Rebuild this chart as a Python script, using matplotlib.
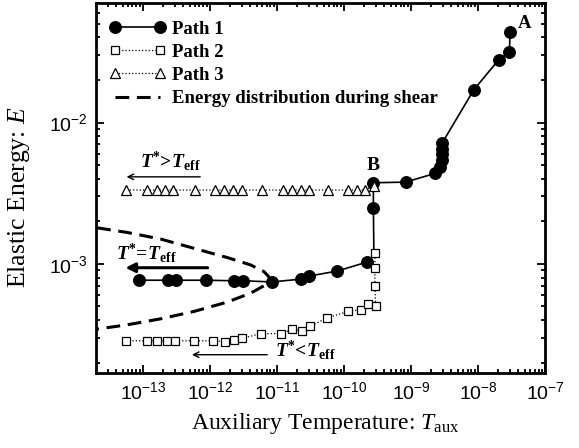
import matplotlib
matplotlib.use("Agg")
import matplotlib.pyplot as plt
from matplotlib.ticker import LogLocator, FixedLocator

plt.rcParams['mathtext.fontset'] = 'custom'
plt.rcParams['mathtext.rm'] = 'Liberation Serif'
plt.rcParams['mathtext.it'] = 'Liberation Serif:italic'
plt.rcParams['mathtext.bf'] = 'Liberation Serif:bold'
plt.rcParams['mathtext.bfit'] = 'Liberation Serif:italic:bold'
plt.rcParams['axes.unicode_minus'] = False
plt.rcParams['font.family'] = ['Liberation Sans', 'DejaVu Sans']

# ---------------- data ----------------
# Path 1 (filled circles), ordered from point A downwards
path1_x = [3.0e-8, 2.95e-8, 2.04e-8, 8.7e-9, 2.93e-9, 2.9e-9, 2.9e-9, 2.87e-9, 2.7e-9,
           2.3e-9, 8.3e-10, 2.75e-10, 2.75e-10, 2.8e-10, 2.2e-10, 7.9e-11, 3.0e-11,
           2.25e-11, 8.4e-12, 3.1e-12, 2.3e-12, 8.7e-13, 3.1e-13, 2.34e-13, 8.8e-14]
path1_y = [4.36e-2, 3.15e-2, 2.78e-2, 1.71e-2, 7.18e-3, 6.55e-3, 5.97e-3, 5.42e-3, 4.86e-3,
           4.37e-3, 3.79e-3, 3.75e-3, 2.5e-3, 1.16e-3, 1.03e-3, 8.9e-4, 8.2e-4,
           7.8e-4, 7.46e-4, 7.6e-4, 7.6e-4, 7.67e-4, 7.67e-4, 7.67e-4, 7.67e-4]
path1_hidden = [13]   # vertex of the line with no visible marker

# Path 2 (open squares)
path2_x = [5.57e-14, 1.14e-13, 1.63e-13, 2.31e-13, 3.0e-13, 5.83e-13, 1.12e-12, 1.66e-12,
           2.31e-12, 2.97e-12, 5.71e-12, 1.17e-11, 1.69e-11, 2.39e-11, 3.08e-11, 5.52e-11,
           1.14e-10, 1.77e-10, 2.31e-10, 2.97e-10, 2.9e-10, 2.9e-10, 2.9e-10]
path2_y = [2.86e-4, 2.86e-4, 2.86e-4, 2.86e-4, 2.86e-4, 2.86e-4, 2.86e-4, 2.82e-4,
           2.91e-4, 2.97e-4, 3.21e-4, 3.22e-4, 3.44e-4, 3.37e-4, 3.61e-4, 4.14e-4,
           4.61e-4, 4.75e-4, 5.24e-4, 5.08e-4, 7.0e-4, 9.42e-4, 1.2e-3]

# Path 3 (open triangles)
path3_x = [5.7e-14, 1.16e-13, 1.6e-13, 2.13e-13, 2.83e-13, 5.97e-13, 1.19e-12, 1.62e-12,
           2.18e-12, 2.97e-12, 5.9e-12, 1.22e-11, 1.66e-11, 2.26e-11, 3.03e-11, 5.7e-11,
           1.16e-10, 1.55e-10, 2.08e-10, 2.8e-10]
path3_y = [3.33e-3] * 19 + [3.55e-3]

# Energy distribution during shear (dashed curve)
dist_x = [2.08e-14, 5.83e-14, 1.84e-13, 5.77e-13, 1.81e-12, 4.05e-12, 6.4e-12, 7.6e-12,
          7.87e-12, 7.5e-12, 6.78e-12, 4.05e-12, 1.81e-12, 5.77e-13, 1.84e-13, 5.83e-14, 2.08e-14]
dist_y = [1.80e-3, 1.67e-3, 1.50e-3, 1.29e-3, 1.11e-3, 9.84e-4, 8.83e-4, 8.1e-4,
          7.7e-4, 7.35e-4, 7.11e-4, 6.21e-4, 5.37e-4, 4.61e-4, 4.09e-4, 3.71e-4, 3.46e-4]

xticks = [1e-13, 1e-12, 1e-11, 1e-10, 1e-9, 1e-8, 1e-7]
yticks = [1e-3, 1e-2]
xlim = (2.0e-14, 1e-7)
ylim = (1.7e-4, 7.0e-2)

# ---------------- figure ----------------
fig = plt.figure(figsize=(5.79, 4.48), dpi=100)
ax = fig.add_axes([0.1658, 0.168, 0.7755, 0.8252])

ax.set_xscale('log')
ax.set_yscale('log')

vis = [i for i in range(len(path1_x)) if i not in path1_hidden]
ax.plot(path1_x, path1_y, '-', color='black', lw=1.2, marker='o', ms=8.3,
        mfc='black', mec='black', markevery=vis, label='Path 1', zorder=3)
ax.plot(path2_x, path2_y, ':', color='black', lw=0.9, marker='s', ms=6.0,
        mfc='white', mec='black', mew=0.9, label='Path 2', zorder=4)
ax.plot(path3_x, path3_y, ':', color='black', lw=0.9, marker='^', ms=7.5,
        mfc='white', mec='black', mew=0.9, label='Path 3', zorder=4)
ax.plot(dist_x, dist_y, '--', color='black', lw=2.2, dashes=(4.5, 2.5),
        label='Energy distribution during shear', zorder=2)

ax.set_xlim(*xlim)
ax.set_ylim(*ylim)

ax.xaxis.set_major_locator(FixedLocator(xticks))
ax.xaxis.set_minor_locator(LogLocator(base=10, subs=range(2, 10), numticks=20))
ax.yaxis.set_major_locator(FixedLocator(yticks))
ax.yaxis.set_minor_locator(LogLocator(base=10, subs=range(2, 10), numticks=20))

ax.tick_params(which='both', direction='in', top=True, right=True, width=1.3)
ax.tick_params(which='major', length=6, labelsize=14, pad=6)
ax.tick_params(which='minor', length=3)
for lab in ax.get_xticklabels() + ax.get_yticklabels():
    lab.set_fontfamily('Liberation Sans')
for sp in ax.spines.values():
    sp.set_linewidth(2.0)

ax.set_xlabel(r'Auxiliary Temperature: $T_{\mathrm{aux}}$', fontfamily='Liberation Serif',
              fontsize=17)
ax.set_ylabel(r'Elastic Energy: $E$', fontfamily='Liberation Serif', fontsize=18.5)
ax.xaxis.set_label_coords(0.51, -0.104)
ax.yaxis.set_label_coords(-0.142, 0.474)

leg = ax.legend(loc='upper left', bbox_to_anchor=(0.0, 0.988), frameon=False,
                prop={'family': 'Liberation Serif', 'weight': 'bold', 'size': 13.5},
                handlelength=3.0, handletextpad=0.34, labelspacing=0.32, numpoints=2,
                borderaxespad=0.35, borderpad=0.35)

# annotations
bold = dict(family='Liberation Serif', weight='bold')
ax.text(5.0e-8, 5.0e-2, 'A', fontsize=13.5, ha='center', va='center', **bold)
ax.text(2.73e-10, 4.94e-3, 'B', fontsize=14, ha='center', va='center', **bold)

ax.annotate('', xy=(5.2e-14, 4.13e-3), xytext=(7.9e-13, 4.13e-3),
            arrowprops=dict(arrowstyle='->', color='black', lw=1.0))
ax.text(2.6e-13, 5.3e-3, r'$\mathbfit{T}^{\mathbf{*}}\!\mathbf{>}\!\mathbfit{T}_{\mathbf{eff}}$',
        fontsize=14, ha='center', va='center')

ax.annotate('', xy=(5.0e-14, 9.4e-4), xytext=(1.02e-12, 9.4e-4),
            arrowprops=dict(arrowstyle='-|>', color='black', lw=2.2, mutation_scale=14))
ax.text(1.13e-13, 1.2e-3, r'$\mathbfit{T}^{\mathbf{*}}\!\mathbf{=}\!\mathbfit{T}_{\mathbf{eff}}$',
        fontsize=14, ha='center', va='center')

ax.annotate('', xy=(4.9e-13, 2.28e-4), xytext=(7.9e-12, 2.28e-4),
            arrowprops=dict(arrowstyle='->', color='black', lw=1.0))
ax.text(2.63e-11, 2.47e-4, r'$\mathbfit{T}^{\mathbf{*}}\!\mathbf{<}\!\mathbfit{T}_{\mathbf{eff}}$',
        fontsize=14, ha='center', va='center')

fig.savefig('out.png', dpi=100)
